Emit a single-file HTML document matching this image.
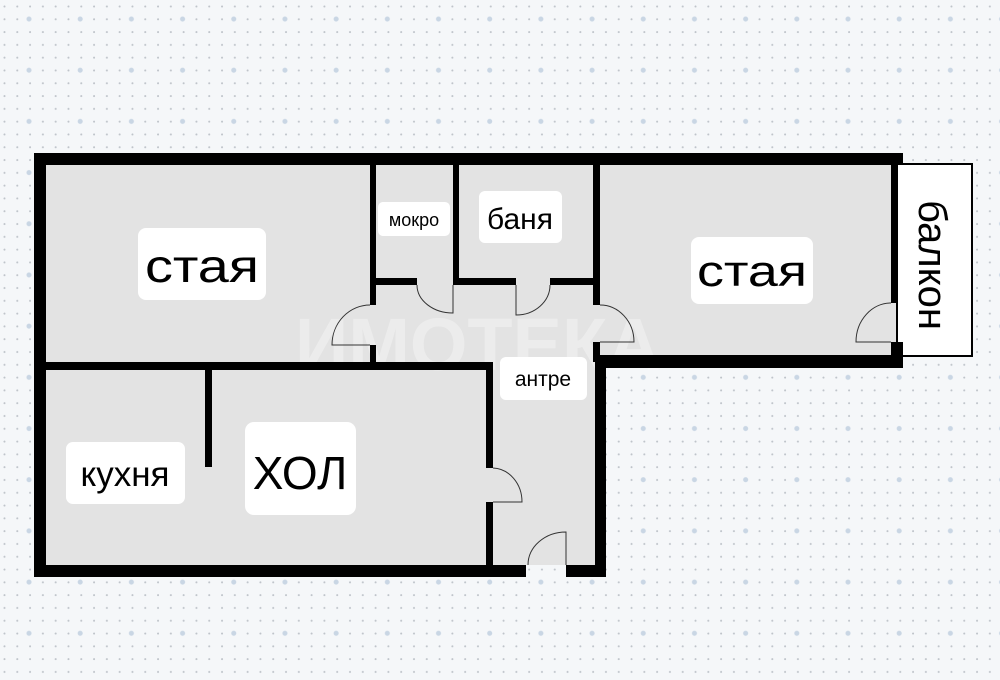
<!DOCTYPE html>
<html><head><meta charset="utf-8"><style>
html,body{margin:0;padding:0}
body{width:1000px;height:680px;overflow:hidden;background-color:#f5f7f9;
background-image:radial-gradient(circle at 29px 19px,#c9d6e4 0 2.2px,transparent 2.8px),radial-gradient(circle at 4.5px 6.5px,#bfc4ca 0 0.8px,transparent 1.2px);
background-size:51.2px 51.2px,12.8px 12.8px;background-position:0 0,0 0;
font-family:"Liberation Sans","DejaVu Sans",sans-serif}
svg{position:absolute;left:0;top:0}
</style></head><body>
<svg width="1000" height="680" viewBox="0 0 1000 680">
<g fill="#e3e3e3">
<rect x="46" y="165" width="324" height="197"/>
<rect x="370" y="165" width="225" height="197"/>
<rect x="593" y="165" width="304" height="190"/>
<rect x="46" y="368" width="441" height="197"/>
<rect x="486" y="362" width="109" height="203"/>
</g>
<rect x="897" y="164" width="75" height="192" fill="#fff" stroke="#000" stroke-width="2"/>
<text x="295" y="370" font-size="74" font-weight="bold" fill="#fff" opacity="0.35" font-family="Liberation Sans, DejaVu Sans, sans-serif">ИМОТЕКА</text>
<g fill="#000">
<rect x="34" y="153" width="869" height="12"/>
<rect x="34" y="153" width="12" height="424"/>
<rect x="34" y="565" width="492" height="12"/>
<rect x="566" y="565" width="40" height="12"/>
<rect x="595" y="362" width="11" height="215"/>
<rect x="595" y="355" width="308" height="13"/>
<rect x="891" y="153" width="6" height="150"/>
<rect x="891" y="342" width="12" height="26"/>
<rect x="897" y="153" width="6" height="11"/>
<rect x="370" y="165" width="6" height="140"/>
<rect x="370" y="345" width="6" height="20"/>
<rect x="453" y="165" width="6" height="120"/>
<rect x="593" y="165" width="7" height="140"/>
<rect x="593" y="342" width="7" height="20"/>
<rect x="376" y="278" width="41" height="7"/>
<rect x="453" y="278" width="63" height="7"/>
<rect x="550" y="278" width="43" height="7"/>
<rect x="34" y="362" width="459" height="8"/>
<rect x="486" y="362" width="7" height="106"/>
<rect x="486" y="502" width="7" height="63"/>
<rect x="205" y="362" width="7" height="105"/>
</g>
<g fill="none" stroke="#333" stroke-width="1">
<path d="M370 345 H332 A38 40 0 0 1 370 305"/>
<path d="M453 285 V313 A36 28 0 0 1 417 285"/>
<path d="M516 285 V315 A34 30 0 0 0 550 285"/>
<path d="M600 342 H634 A34 37 0 0 0 600 305"/>
<path d="M891 342 H856 A35 39 0 0 1 891 303"/>
<path d="M493 502 H522 A30 34 0 0 0 493 468"/>
<path d="M566 565 V532 A38 33 0 0 0 528 565"/>
</g>
<g fill="#fff">
<rect x="138" y="228" width="128" height="72" rx="8"/>
<rect x="378" y="202" width="72" height="34" rx="5"/>
<rect x="479" y="191" width="83" height="52" rx="6"/>
<rect x="691" y="237" width="122" height="67" rx="8"/>
<rect x="500" y="357" width="87" height="43" rx="6"/>
<rect x="66" y="442" width="119" height="62" rx="7"/>
<rect x="245" y="422" width="111" height="93" rx="9"/>
</g>
<g fill="#000" text-anchor="middle" font-family="Liberation Sans, DejaVu Sans, sans-serif">
<text x="202" y="282" font-size="46" textLength="114" lengthAdjust="spacingAndGlyphs">стая</text>
<text x="414" y="226" font-size="18">мокро</text>
<text x="520" y="229" font-size="30">баня</text>
<text x="752" y="286" font-size="44" textLength="110" lengthAdjust="spacingAndGlyphs">стая</text>
<text x="543" y="386" font-size="21">антре</text>
<text x="125" y="486" font-size="35">кухня</text>
<text x="300" y="489" font-size="46">ХОЛ</text>
<text transform="translate(932,265) rotate(90)" x="0" y="13" font-size="40">балкон</text>
</g>
</svg>
</body></html>
